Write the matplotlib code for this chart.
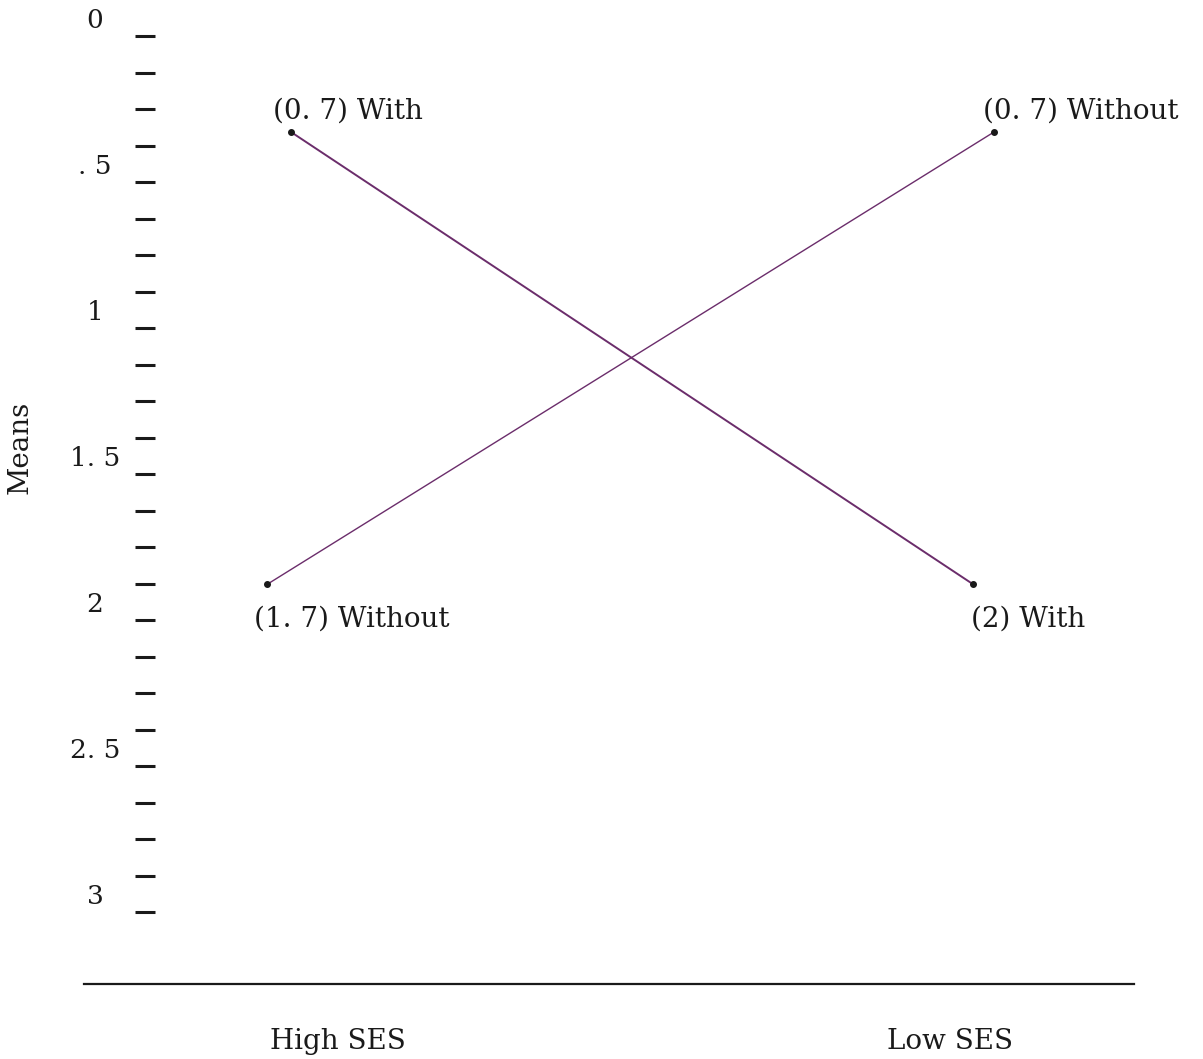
import matplotlib.pyplot as plt

# SES groups on the horizontal axis
groups = ['High SES', 'Low SES']
group_pos = [0, 1]

# plotted means (as drawn on the page) and the printed labels
with_x = [-0.077, 1.038]
with_y = [0.39, 1.94]
with_labels = ['(0. 7) With', '(2) With']

without_x = [-0.116, 1.072]
without_y = [1.94, 0.39]
without_labels = ['(1. 7) Without', '(0. 7) Without']

ytick_vals = [0, 0.5, 1, 1.5, 2, 2.5, 3]
ytick_text = ['0', '. 5', '1', '1. 5', '2', '2. 5', '3']
dash_vals = [0.0625 + 0.125 * k for k in range(25)]

plt.rcParams['font.family'] = ['DejaVu Serif']
ink = '#1a1a1a'
purple = '#6b2d6b'
fs = 20

fig = plt.figure(figsize=(12.03, 10.59), dpi=100)
ax = fig.add_axes([0, 0, 1, 1])
ax.set_xlim(-0.552, 1.413)
ax.set_ylim(3.565, -0.0616)

ax.plot(with_x, with_y, color=purple, lw=1.4, marker='o', ms=4,
        mfc=ink, mec=ink)
ax.plot(without_x, without_y, color=purple, lw=1.0, marker='o', ms=4,
        mfc=ink, mec=ink)

offsets_with = [(-13, 15), (-2, -25)]
offsets_without = [(-9, -25), (-8, 15)]
for x, y, t, off in zip(with_x, with_y, with_labels, offsets_with):
    ax.annotate(t, (x, y), xytext=off, textcoords='offset points',
                ha='left', va='center', fontsize=fs, color=ink)
for x, y, t, off in zip(without_x, without_y, without_labels, offsets_without):
    ax.annotate(t, (x, y), xytext=off, textcoords='offset points',
                ha='left', va='center', fontsize=fs, color=ink)

# y axis: dashes as minor ticks, number labels as major ticks
for s in ['top', 'right']:
    ax.spines[s].set_visible(False)
ax.spines['left'].set_position(('data', -0.315))
ax.spines['left'].set_visible(False)
ax.set_yticks(ytick_vals)
ax.set_yticklabels(ytick_text, fontsize=19, color=ink)
ax.set_yticks(dash_vals, minor=True)
ax.tick_params(axis='y', which='major', length=0, pad=36)
ax.tick_params(axis='y', which='minor', length=15, width=2.2,
               direction='inout', color=ink)
for lab in ax.get_yticklabels():
    lab.set_ha('center')

ax.set_ylabel('Means', fontsize=fs, color=ink)
ax.yaxis.set_label_coords(34 / 1203, 1 - 447 / 1059)

# x axis: baseline with group names
ax.spines['bottom'].set_position(('data', 3.308))
ax.spines['bottom'].set_bounds(-0.415, 1.301)
ax.spines['bottom'].set_linewidth(1.6)
ax.spines['bottom'].set_color(ink)
ax.set_xticks(group_pos)
ax.set_xticklabels(groups, fontsize=fs, color=ink)
ax.tick_params(axis='x', length=0, pad=32)

fig.savefig('out.png', dpi=100, facecolor='white')
